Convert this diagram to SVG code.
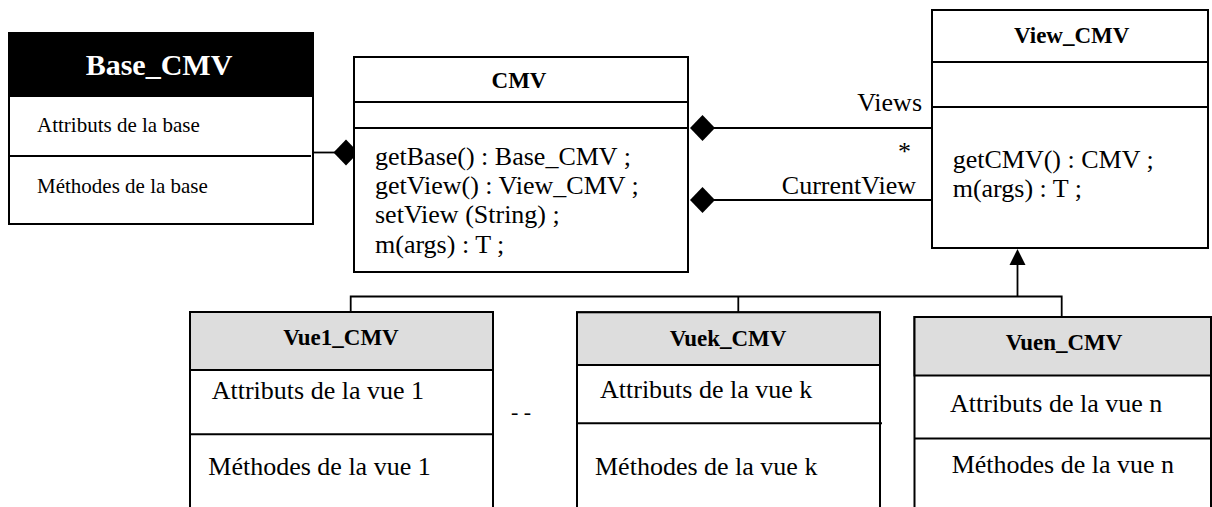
<svg xmlns="http://www.w3.org/2000/svg" width="1212" height="507" viewBox="0 0 1212 507">
<style>
  .box { fill: #fff; stroke: #000; stroke-width: 2; }
  .hdr { fill: #dddddd; stroke: #000; stroke-width: 2; }
  .blk { fill: #000; stroke: #000; stroke-width: 2; }
  .div { stroke: #000; stroke-width: 2; fill: none; }
  .ln { stroke: #000; stroke-width: 1.8; fill: none; }
  .title { font-weight: bold; font-size: 23px; text-anchor: middle; }
  .m { font-size: 26px; }
  .s { font-size: 21px; }
  .dia { fill: #000; stroke: none; }
</style>

<g id="connectors">
  <line class="ln" x1="313" y1="152.5" x2="340" y2="152.5"/>
  <path class="dia" d="M333.5,152.5 L346,139.5 L358.5,152.5 L346,165.5 Z"/>
  <line class="ln" x1="712" y1="128" x2="932" y2="128"/>
  <path class="dia" d="M690,128 L702.5,115 L715,128 L702.5,141 Z"/>
  <line class="ln" x1="712" y1="200" x2="932" y2="200"/>
  <path class="dia" d="M690,200 L702.5,187 L715,200 L702.5,213 Z"/>
  <g font-family="'Liberation Serif', 'DejaVu Serif', serif">
    <text class="m" x="922" y="111" text-anchor="end">Views</text>
    <text class="m" x="911" y="160" text-anchor="end">*</text>
    <text class="m" x="916" y="194" text-anchor="end">CurrentView</text>
  </g>
  <polyline class="ln" points="350.7,312 350.7,296.5 1061.7,296.5 1061.7,317"/>
  <line class="ln" x1="738.3" y1="296.5" x2="738.3" y2="312"/>
  <line class="ln" x1="1017.5" y1="296.5" x2="1017.5" y2="264"/>
  <path d="M1009.5,265 L1017.5,249 L1025.5,265 Z" fill="#000"/>
</g>

<g id="Base_CMV" font-family="'Liberation Serif', 'DejaVu Serif', serif">
  <rect class="box" x="9" y="33" width="304" height="191"/>
  <rect class="blk" x="9" y="33" width="304" height="63"/>
  <line class="div" x1="9" y1="156" x2="311" y2="156"/>
  <text x="159" y="75" font-size="30" font-weight="bold" text-anchor="middle" fill="#fff">Base_CMV</text>
  <text class="s" x="37" y="132">Attributs de la base</text>
  <text class="s" x="37" y="193">Méthodes de la base</text>
</g>

<g id="CMV" font-family="'Liberation Serif', 'DejaVu Serif', serif">
  <rect class="box" x="354" y="57" width="334" height="215"/>
  <line class="div" x1="354" y1="102" x2="688" y2="102"/>
  <line class="div" x1="354" y1="128" x2="688" y2="128"/>
  <text class="title" x="519" y="88">CMV</text>
  <text class="m" x="375" y="165">getBase() : Base_CMV ;</text>
  <text class="m" x="375" y="194">getView() : View_CMV ;</text>
  <text class="m" x="375" y="223">setView (String) ;</text>
  <text class="m" x="375" y="253">m(args) : T ;</text>
</g>

<g id="View_CMV" font-family="'Liberation Serif', 'DejaVu Serif', serif">
  <rect class="box" x="932" y="10" width="276" height="238"/>
  <line class="div" x1="932" y1="62" x2="1208" y2="62"/>
  <line class="div" x1="932" y1="107" x2="1208" y2="107"/>
  <text class="title" x="1071.7" y="43">View_CMV</text>
  <text class="m" x="952.7" y="168">getCMV() : CMV ;</text>
  <text class="m" x="952.7" y="196.5">m(args) : T ;</text>
</g>

<g id="Vue1_CMV" font-family="'Liberation Serif', 'DejaVu Serif', serif">
  <rect class="box" x="190" y="312" width="303" height="210"/>
  <rect class="hdr" x="190" y="312" width="303" height="58"/>
  <line class="div" x1="190" y1="434.3" x2="493" y2="434.3"/>
  <text class="title" x="341" y="345">Vue1_CMV</text>
  <text class="m" x="211.7" y="399">Attributs de la vue 1</text>
  <text class="m" x="208.3" y="475">Méthodes de la vue 1</text>
</g>

<text id="ellipsis" x="511" y="419" font-size="22" font-family="'Liberation Serif', 'DejaVu Serif', serif">- -</text>

<g id="Vuek_CMV" font-family="'Liberation Serif', 'DejaVu Serif', serif">
  <rect class="box" x="577" y="312.3" width="303" height="210"/>
  <rect class="hdr" x="577" y="312.3" width="303" height="52.7"/>
  <line class="div" x1="577" y1="423.3" x2="882" y2="423.3"/>
  <text class="title" x="728" y="345.5">Vuek_CMV</text>
  <text class="m" x="600" y="398.3">Attributs de la vue k</text>
  <text class="m" x="595" y="475">Méthodes de la vue k</text>
</g>

<g id="Vuen_CMV" font-family="'Liberation Serif', 'DejaVu Serif', serif">
  <rect class="box" x="914.5" y="317" width="296.5" height="210"/>
  <rect class="hdr" x="914.5" y="317" width="296.5" height="58.5"/>
  <line class="div" x1="914.5" y1="438.5" x2="1211" y2="438.5"/>
  <text class="title" x="1064" y="350">Vuen_CMV</text>
  <text class="m" x="950" y="411.7">Attributs de la vue n</text>
  <text class="m" x="951.7" y="473">Méthodes de la vue n</text>
</g>
</svg>
